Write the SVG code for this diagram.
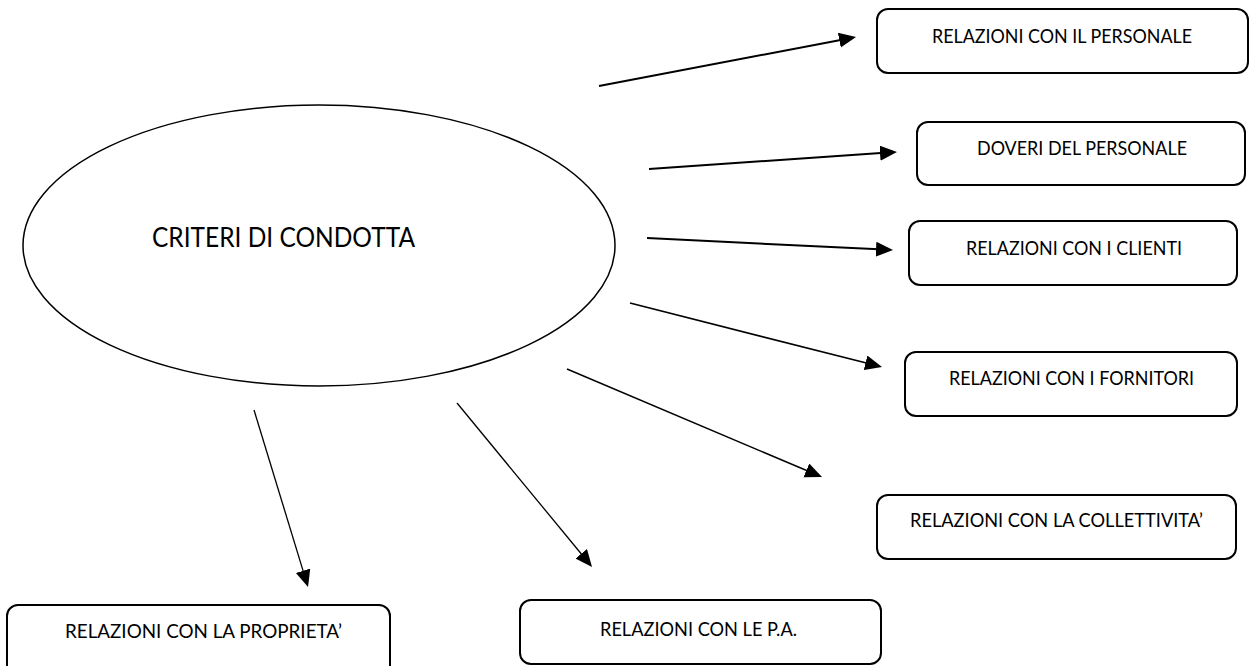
<svg xmlns="http://www.w3.org/2000/svg" width="1251" height="666" viewBox="0 0 1251 666">
<style>
.box{fill:#fff;stroke:#000;stroke-width:2}
.lbl{font-family:Lato,"Open Sans","Liberation Sans",sans-serif;font-size:19px;fill:#000;text-anchor:middle}
.title{font-family:Lato,"Open Sans","Liberation Sans",sans-serif;font-size:26px;fill:#000}
.arr{stroke:#000;fill:none}
</style>
<defs>
<marker id="ah" markerUnits="userSpaceOnUse" markerWidth="18" markerHeight="16" refX="8" refY="7.5" orient="auto">
<path d="M0,0 L17,7.5 L0,15 Z" fill="#000"/>
</marker>
</defs>
<rect width="1251" height="666" fill="#fff"/>
<g id="center">
<ellipse cx="319" cy="245.5" rx="296" ry="140.5" fill="#fff" stroke="#000" stroke-width="1.5"/>
<text class="title" x="152" y="247" textLength="263" lengthAdjust="spacingAndGlyphs">CRITERI DI CONDOTTA</text>
</g>
<g id="connectors">
<line class="arr" stroke-width="2" x1="599" y1="86" x2="847.2" y2="38.7" marker-end="url(#ah)"/>
<line class="arr" stroke-width="2" x1="649" y1="169" x2="888" y2="152.6" marker-end="url(#ah)"/>
<line class="arr" stroke-width="2" x1="647" y1="238" x2="884" y2="249.6" marker-end="url(#ah)"/>
<line class="arr" stroke-width="1.7" x1="630" y1="303" x2="873.3" y2="364.8" marker-end="url(#ah)"/>
<line class="arr" stroke-width="1.5" x1="567" y1="369" x2="813.7" y2="473.5" marker-end="url(#ah)"/>
<line class="arr" stroke-width="1.3" x1="457" y1="403" x2="586.3" y2="560" marker-end="url(#ah)"/>
<line class="arr" stroke-width="1.3" x1="254" y1="410" x2="305.4" y2="578.4" marker-end="url(#ah)"/>
</g>
<g id="personale">
<rect class="box" x="877" y="9" width="371" height="64" rx="11"/>
<text class="lbl" x="1062" y="43" textLength="260" lengthAdjust="spacingAndGlyphs">RELAZIONI CON IL PERSONALE</text>
</g>
<g id="doveri">
<rect class="box" x="917" y="122" width="328" height="63" rx="11"/>
<text class="lbl" x="1082" y="155" textLength="210" lengthAdjust="spacingAndGlyphs">DOVERI DEL PERSONALE</text>
</g>
<g id="clienti">
<rect class="box" x="909" y="221" width="328" height="64" rx="11"/>
<text class="lbl" x="1074" y="255" textLength="216" lengthAdjust="spacingAndGlyphs">RELAZIONI CON I CLIENTI</text>
</g>
<g id="fornitori">
<rect class="box" x="905" y="352" width="332" height="64" rx="11"/>
<text class="lbl" x="1071.5" y="385" textLength="245" lengthAdjust="spacingAndGlyphs">RELAZIONI CON I FORNITORI</text>
</g>
<g id="collettivita">
<rect class="box" x="877" y="495" width="359" height="64" rx="11"/>
<text class="lbl" x="1056.5" y="527" textLength="293" lengthAdjust="spacingAndGlyphs">RELAZIONI CON LA COLLETTIVITA’</text>
</g>
<g id="pa">
<rect class="box" x="520" y="600" width="361" height="64" rx="11"/>
<text class="lbl" x="698.5" y="636" textLength="197" lengthAdjust="spacingAndGlyphs">RELAZIONI CON LE P.A.</text>
</g>
<g id="proprieta">
<rect class="box" x="7" y="605" width="383" height="75" rx="11"/>
<text class="lbl" x="203.5" y="638" textLength="277" lengthAdjust="spacingAndGlyphs">RELAZIONI CON LA PROPRIETA’</text>
</g>
</svg>
